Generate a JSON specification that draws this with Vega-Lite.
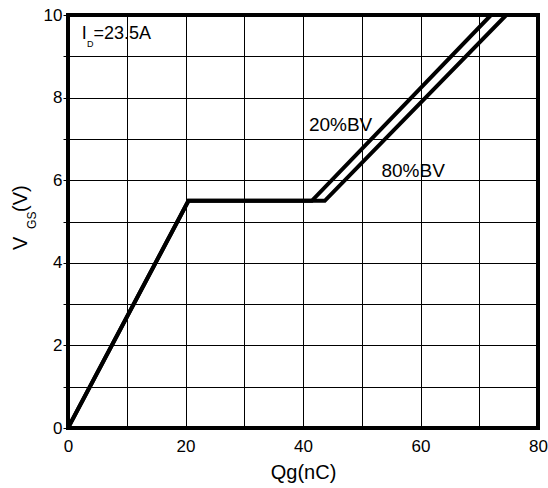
{
  "$schema": "https://vega.github.io/schema/vega-lite/v6.json",
  "width": 470,
  "height": 413,
  "autosize": {"type": "none"},
  "padding": {"left": 68, "top": 15, "right": 10, "bottom": 60},
  "background": "white",
  "config": {
    "view": {"stroke": "black", "strokeWidth": 4},
    "font": "Liberation Sans",
    "axis": {
      "labelFont": "Liberation Sans",
      "titleFont": "Liberation Sans",
      "labelColor": "black",
      "titleColor": "black",
      "gridColor": "#000",
      "gridWidth": 1,
      "gridOpacity": 1,
      "domain": false,
      "labelFlush": false,
      "labelOverlap": false
    }
  },
  "datasets": {
    "curves": [
      {"series": "20%BV", "qg": 0, "vgs": 0, "ord": 0},
      {"series": "20%BV", "qg": 20.5, "vgs": 5.5, "ord": 1},
      {"series": "20%BV", "qg": 41.5, "vgs": 5.5, "ord": 2},
      {"series": "20%BV", "qg": 72, "vgs": 10, "ord": 3},
      {"series": "80%BV", "qg": 0, "vgs": 0, "ord": 0},
      {"series": "80%BV", "qg": 20.5, "vgs": 5.5, "ord": 1},
      {"series": "80%BV", "qg": 43.7, "vgs": 5.5, "ord": 2},
      {"series": "80%BV", "qg": 74.6, "vgs": 10, "ord": 3}
    ],
    "seriesLabels": [
      {"qg": 41.0, "vgs": 7.2, "text": "20%BV"},
      {"qg": 53.35, "vgs": 6.07, "text": "80%BV"}
    ],
    "bigNote": [
      {"qg": 2.35, "vgs": 9.43, "text": "I"},
      {"qg": 4.34, "vgs": 9.43, "text": "=23.5A"}
    ],
    "smallNote": [
      {"qg": 3.22, "vgs": 9.23, "text": "D"}
    ],
    "yTitleBig": [
      {"qg": -6.97, "vgs": 4.31, "text": "V"},
      {"qg": -6.97, "vgs": 5.23, "text": "(V)"}
    ],
    "yTitleSmall": [
      {"qg": -5.44, "vgs": 4.82, "text": "GS"}
    ]
  },
  "encoding": {
    "x": {
      "field": "qg", "type": "quantitative",
      "scale": {"domain": [0, 80], "nice": false},
      "axis": {
        "values": [0, 10, 20, 30, 40, 50, 60, 70, 80],
        "labelExpr": "datum.value % 20 == 0 ? datum.label : ''",
        "ticks": false,
        "labelFontSize": 17,
        "labelPadding": 10,
        "title": "Qg(nC)",
        "titleFontSize": 20,
        "titleFontWeight": "normal",
        "titlePadding": 8
      }
    },
    "y": {
      "field": "vgs", "type": "quantitative",
      "scale": {"domain": [0, 10], "nice": false},
      "axis": {
        "values": [0, 1, 2, 3, 4, 5, 6, 7, 8, 9, 10],
        "labelExpr": "datum.value % 2 == 0 ? datum.label : ''",
        "ticks": true,
        "tickSize": 5,
        "tickColor": "black",
        "labelFontSize": 17,
        "labelPadding": 1,
        "title": null
      }
    }
  },
  "layer": [
    {
      "data": {"name": "curves"},
      "mark": {"type": "line", "color": "black", "strokeWidth": 4, "strokeJoin": "miter", "strokeCap": "butt", "clip": true},
      "encoding": {
        "detail": {"field": "series"},
        "order": {"field": "ord", "type": "quantitative"}
      }
    },
    {
      "data": {"name": "seriesLabels"},
      "mark": {"type": "text", "fontSize": 19, "align": "left", "baseline": "alphabetic", "color": "black"},
      "encoding": {"text": {"field": "text"}}
    },
    {
      "data": {"name": "bigNote"},
      "mark": {"type": "text", "fontSize": 18, "align": "left", "baseline": "alphabetic", "color": "black"},
      "encoding": {"text": {"field": "text"}}
    },
    {
      "data": {"name": "smallNote"},
      "mark": {"type": "text", "fontSize": 9, "align": "left", "baseline": "alphabetic", "color": "black"},
      "encoding": {"text": {"field": "text"}}
    },
    {
      "data": {"name": "yTitleBig"},
      "mark": {"type": "text", "fontSize": 20, "angle": 270, "align": "left", "baseline": "alphabetic", "color": "black"},
      "encoding": {"text": {"field": "text"}}
    },
    {
      "data": {"name": "yTitleSmall"},
      "mark": {"type": "text", "fontSize": 12, "angle": 270, "align": "left", "baseline": "alphabetic", "color": "black"},
      "encoding": {"text": {"field": "text"}}
    }
  ]
}
